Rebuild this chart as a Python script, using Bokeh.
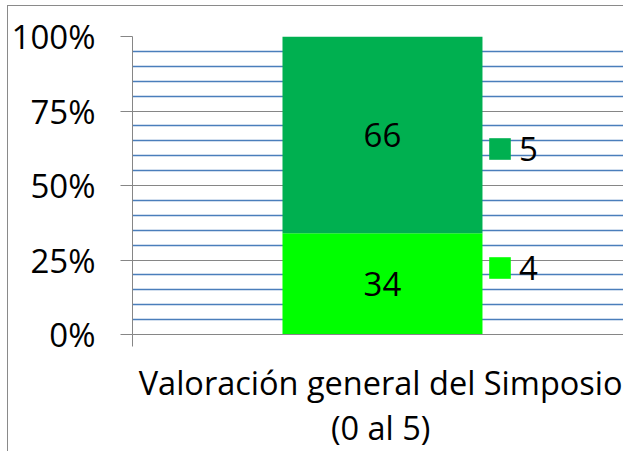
from bokeh.plotting import figure
from bokeh.models import Range1d, FixedTicker, ColumnDataSource, Legend, LegendItem
from bokeh.core.properties import value
from bokeh.embed import file_html
from bokeh.resources import INLINE

# ---- data ----
categories = ["Valoración general del Simposio\n(0 al 5)"]
series_names = ["4", "5"]
values_4 = [34]
values_5 = [66]
y_ticks = [0, 25, 50, 75, 100]
y_tick_labels = ["0%", "25%", "50%", "75%", "100%"]
minor_step = 5
colors = ["#00FF00", "#00B050"]

FONT = "Open Sans"
FS = "33px"
GREY = "#868686"
BLUE = "#4A7EBB"

p = figure(width=616, height=446, output_backend="svg", toolbar_location=None,
           x_range=Range1d(-0.5, -0.5 + 494 / 502), y_range=Range1d(0, 100),
           min_border_left=122, min_border_right=0, min_border_top=30, min_border_bottom=118)
p.styles = {"margin-left": "7px", "margin-top": "5px",
            "border-left": "1px solid #8a8a8a", "border-top": "1px solid #8a8a8a"}
p.outline_line_color = None
p.background_fill_color = "white"
p.border_fill_color = "white"

xs = list(range(len(categories)))
source = ColumnDataSource(dict(x=xs, s4=values_4, s5=values_5))
renderers = p.vbar_stack(["s4", "s5"], x="x", width=0.4, source=source,
                         fill_color=colors, line_color=None)

# data labels at centre of each segment
mids = [values_4[0] / 2, values_4[0] + values_5[0] / 2]
p.text(x=[xs[0], xs[0]], y=mids, text=[str(values_4[0]), str(values_5[0])],
       text_font=value(FONT), text_font_size=FS, text_align="center",
       text_baseline="middle", text_color="black")

# y axis
minor = [v for v in range(0, 101, minor_step) if v % 25 != 0]
p.yaxis.ticker = FixedTicker(ticks=y_ticks, minor_ticks=minor)
p.yaxis.major_label_overrides = {t: l for t, l in zip(y_ticks, y_tick_labels)}
p.yaxis.major_label_text_font = FONT
p.yaxis.major_label_text_font_size = FS
p.yaxis.major_label_text_color = "black"
p.yaxis.major_label_standoff = 25
p.yaxis.major_tick_out = 12
p.yaxis.major_tick_in = 0
p.yaxis.minor_tick_out = 0
p.yaxis.minor_tick_in = 0
p.yaxis.axis_line_color = GREY
p.yaxis.major_tick_line_color = GREY

# x axis
p.xaxis.ticker = FixedTicker(ticks=xs, minor_ticks=[-0.5])
p.xaxis.major_label_overrides = {i: c for i, c in zip(xs, categories)}
p.xaxis.major_label_text_font = FONT
p.xaxis.major_label_text_font_size = "32.5px"
p.xaxis.major_label_text_color = "black"
p.xaxis.major_label_text_line_height = 1.0
p.xaxis.major_label_standoff = 13
p.xaxis.major_tick_out = 0
p.xaxis.major_tick_in = 0
p.xaxis.minor_tick_out = 12
p.xaxis.minor_tick_in = 0
p.xaxis.axis_line_color = GREY
p.xaxis.minor_tick_line_color = GREY

# grids
p.xgrid.grid_line_color = None
p.ygrid.ticker = FixedTicker(ticks=y_ticks, minor_ticks=minor)
p.ygrid.grid_line_color = GREY
p.ygrid.grid_line_width = 1
p.ygrid.minor_grid_line_color = BLUE
p.ygrid.minor_grid_line_width = 1.3

# legend
legend = Legend(items=[LegendItem(label=series_names[1], renderers=[renderers[1]]),
                       LegendItem(label=series_names[0], renderers=[renderers[0]])],
                location=(354, 44), glyph_width=27, glyph_height=27, label_standoff=6,
                spacing=74, padding=0, margin=0, background_fill_alpha=0,
                border_line_color=None, label_text_font=FONT, label_text_font_size=FS,
                label_text_color="black")
p.add_layout(legend, "center")

open("out.html", "w").write(file_html(p, INLINE))
